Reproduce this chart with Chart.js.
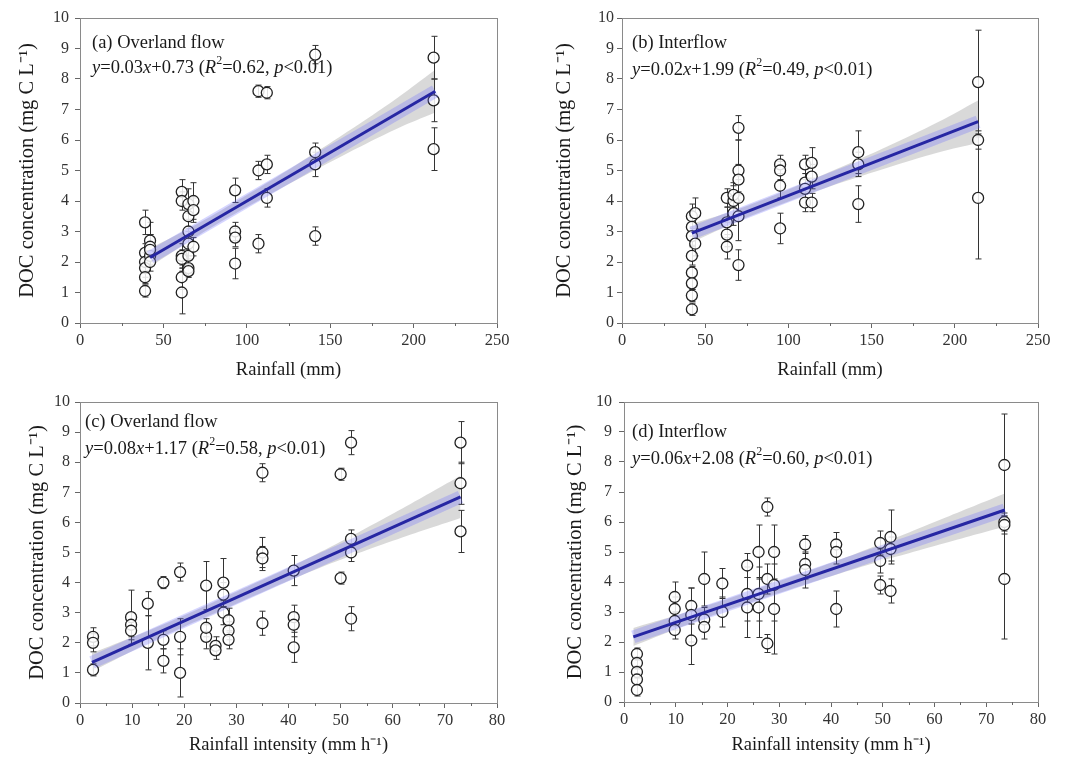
<!DOCTYPE html>
<html>
<head>
<meta charset="utf-8">
<script src="https://cdn.jsdelivr.net/npm/chart.js@4.4.1/dist/chart.umd.min.js"></script>
<style>
  body { margin: 0; background: #fff; }
  #wrap { position: relative; width: 1069px; height: 757px; }
  canvas { position: absolute; }
</style>
</head>
<body>
<div id="wrap">
  <canvas id="chartA" width="535" height="385" style="left:0;top:0"></canvas>
  <canvas id="chartB" width="534" height="385" style="left:535px;top:0"></canvas>
  <canvas id="chartC" width="535" height="372" style="left:0;top:385px"></canvas>
  <canvas id="chartD" width="534" height="372" style="left:535px;top:385px"></canvas>
</div>
<script>
// (a) overland flow vs rainfall
const overRainX = [39, 39, 39, 39, 39, 39, 42, 42, 42, 42, 42, 61, 61, 61, 61, 61, 61,
  65, 65, 65, 65, 65, 65, 65, 68, 68, 68, 93, 93, 93, 93, 107, 107, 107, 112, 112, 112,
  141, 141, 141, 141, 212, 212, 212];
const overRainY = [3.3, 2.3, 2.0, 1.8, 1.5, 1.05, 2.7, 2.5, 2.2, 2.0, 2.4, 4.3, 4.0, 2.2, 2.1, 1.5, 1.0,
  3.9, 3.5, 3.0, 2.6, 2.2, 1.8, 1.7, 4.0, 3.7, 2.5, 4.35, 3.0, 2.8, 1.95, 7.6, 5.0, 2.6, 7.55, 5.2, 4.1,
  8.8, 5.6, 5.2, 2.85, 8.7, 7.3, 5.7];
const overRainErr = [0.4, 0.3, 0.3, 0.3, 0.2, 0.2, 0.6, 0.4, 0.3, 0.3, 0.5, 0.4, 0.3, 0.4, 0.3, 0.4, 0.7,
  0.5, 0.4, 0.6, 0.4, 0.3, 0.3, 0.2, 0.6, 0.4, 0.3, 0.4, 0.3, 0.3, 0.5, 0.2, 0.3, 0.3, 0.2, 0.3, 0.3,
  0.3, 0.3, 0.4, 0.3, 0.7, 0.7, 0.7];
const overRainFitX = [42, 213];
const overRainFitY = [2.15, 7.6];
const overRainBandX = [42, 70, 100, 130, 160, 190, 213];
const overRainBandLo = [1.85, 2.84, 3.8, 4.7, 5.56, 6.37, 6.9];
const overRainBandHi = [2.45, 3.24, 4.2, 5.2, 6.26, 7.37, 8.3];

// (b) interflow vs rainfall
const interRainX = [42, 42, 42, 42, 42, 42, 42, 42, 44, 44, 63, 63, 63, 63, 67, 67, 67,
  70, 70, 70, 70, 70, 70, 95, 95, 95, 95, 110, 110, 110, 110, 114, 114, 114,
  142, 142, 142, 214, 214, 214];
const interRainY = [3.5, 3.15, 2.85, 2.2, 1.65, 1.3, 0.9, 0.45, 3.6, 2.6, 4.1, 2.9, 2.5, 3.3, 4.0, 3.6, 4.2,
  6.4, 5.0, 4.7, 4.1, 3.5, 1.9, 5.2, 5.0, 4.5, 3.1, 5.2, 4.6, 4.4, 3.95, 5.25, 4.8, 3.95,
  5.6, 5.2, 3.9, 7.9, 6.0, 4.1];
const interRainErr = [0.4, 0.3, 0.3, 0.3, 0.2, 0.2, 0.2, 0.2, 0.5, 0.4, 0.3, 0.4, 0.4, 0.5, 0.5, 0.4, 0.4,
  0.4, 1.0, 0.5, 0.6, 0.8, 0.5, 0.3, 0.3, 0.4, 0.5, 0.3, 0.3, 0.3, 0.3, 0.5, 0.4, 0.3,
  0.7, 0.4, 0.6, 1.7, 0.3, 2.0];
const interRainFitX = [42, 214];
const interRainFitY = [2.95, 6.6];
const interRainBandX = [42, 70, 100, 130, 160, 190, 214];
const interRainBandLo = [2.65, 3.34, 3.98, 4.57, 5.1, 5.59, 5.9];
const interRainBandHi = [3.25, 3.74, 4.38, 5.07, 5.8, 6.59, 7.3];

// (c) overland flow vs rainfall intensity
const overIntX = [2.5, 2.5, 2.5, 9.8, 9.8, 9.8, 13, 13, 16, 16, 16, 19.2, 19.2, 19.2,
  24.2, 24.2, 24.2, 26, 26, 27.5, 27.5, 27.5, 28.5, 28.5, 28.5, 35, 35, 35, 35,
  41, 41, 41, 41, 50, 50, 52, 52, 52, 52, 73, 73, 73];
const overIntY = [2.2, 2.0, 1.1, 2.85, 2.6, 2.4, 3.3, 2.0, 4.0, 2.1, 1.4, 4.35, 2.2, 1.0,
  3.9, 2.2, 2.5, 1.9, 1.75, 4.0, 3.6, 3.0, 2.75, 2.4, 2.1, 7.65, 5.0, 4.8, 2.65,
  4.4, 2.85, 2.6, 1.85, 7.6, 4.15, 8.65, 5.45, 5.0, 2.8, 8.65, 7.3, 5.7];
const overIntErr = [0.3, 0.3, 0.2, 0.9, 0.4, 0.3, 0.4, 0.9, 0.2, 0.3, 0.4, 0.3, 0.6, 0.8,
  0.8, 0.4, 0.3, 0.3, 0.3, 0.8, 0.4, 0.4, 0.4, 0.3, 0.3, 0.3, 0.5, 0.4, 0.4,
  0.5, 0.4, 0.4, 0.5, 0.2, 0.2, 0.4, 0.3, 0.3, 0.4, 0.7, 0.7, 0.7];
const overIntFitX = [2.3, 73];
const overIntFitY = [1.35, 6.85];
const overIntBandX = [2.3, 15, 30, 45, 60, 73];
const overIntBandLo = [1.05, 2.14, 3.3, 4.42, 5.39, 6.15];
const overIntBandHi = [1.65, 2.54, 3.7, 4.92, 6.29, 7.55];

// (d) interflow vs rainfall intensity
const interIntX = [2.5, 2.5, 2.5, 2.5, 2.5, 9.8, 9.8, 9.8, 9.8, 13, 13, 13, 15.5, 15.5, 15.5,
  19, 19, 23.8, 23.8, 23.8, 26, 26, 26, 27.7, 27.7, 27.7, 29, 29, 29, 35, 35, 35,
  41, 41, 41, 49.5, 49.5, 49.5, 51.5, 51.5, 51.5, 73.5, 73.5, 73.5, 73.5];
const interIntY = [1.6, 1.3, 1.0, 0.75, 0.4, 3.5, 3.1, 2.7, 2.4, 3.2, 2.9, 2.05, 4.1, 2.75, 2.5,
  3.95, 3.0, 4.55, 3.6, 3.15, 5.0, 3.6, 3.15, 6.5, 4.1, 1.95, 5.0, 3.9, 3.1, 5.25, 4.6, 4.4,
  5.25, 5.0, 3.1, 5.3, 4.7, 3.9, 5.5, 5.1, 3.7, 7.9, 6.0, 5.9, 4.1];
const interIntErr = [0.2, 0.2, 0.2, 0.2, 0.2, 0.5, 0.4, 0.3, 0.3, 0.6, 0.9, 0.8, 0.9, 0.4, 0.4,
  0.5, 0.5, 0.4, 0.9, 1.0, 0.9, 0.9, 1.0, 0.3, 0.5, 0.3, 0.9, 1.2, 1.5, 0.3, 0.5, 0.6,
  0.4, 0.4, 0.6, 0.4, 0.4, 0.3, 0.9, 0.4, 0.4, 1.7, 0.3, 0.3, 2.0];
const interIntFitX = [1.8, 73.6];
const interIntFitY = [2.17, 6.4];
const interIntBandX = [1.8, 15, 30, 45, 60, 73.6];
const interIntBandLo = [1.87, 2.75, 3.63, 4.46, 5.2, 5.85];
const interIntBandHi = [2.47, 3.15, 4.03, 4.96, 6.0, 6.95];

const serif = '"Liberation Serif", "Times New Roman", serif';
const inkColor = '#1a1a1a';
const textSize = 18.5;

function toPoints(xs, ys) {
  return xs.map((x, i) => ({ x: x, y: ys[i] }));
}

// vertical error bars with caps, drawn just before the scatter points
const errorBarPlugin = {
  id: 'errorBars',
  beforeDatasetDraw(chart, args) {
    const ds = chart.data.datasets[args.index];
    if (!ds.errors) return;
    const xs = chart.scales.x, ys = chart.scales.y;
    const c = chart.ctx;
    c.save();
    c.strokeStyle = '#333';
    c.lineWidth = 1;
    ds.data.forEach((pt, i) => {
      const e = ds.errors[i];
      const px = Math.round(xs.getPixelForValue(pt.x)) + 0.5;
      const top = ys.getPixelForValue(pt.y + e);
      const bot = ys.getPixelForValue(Math.max(0, pt.y - e));
      c.beginPath();
      c.moveTo(px, top); c.lineTo(px, bot);
      c.moveTo(px - 3, top); c.lineTo(px + 3, top);
      c.moveTo(px - 3, bot); c.lineTo(px + 3, bot);
      c.stroke();
    });
    c.restore();
  }
};

// box round the plot area, plus minor ticks half way between the x labels
const framePlugin = {
  id: 'frame',
  beforeDatasetsDraw(chart) {
    const a = chart.chartArea, c = chart.ctx, xs = chart.scales.x;
    const step = xs.options.ticks.stepSize;
    c.save();
    c.strokeStyle = '#8a8a8a';
    c.lineWidth = 1;
    c.strokeRect(a.left + 0.5, a.top + 0.5, a.right - a.left, a.bottom - a.top);
    c.strokeStyle = '#666';
    c.beginPath();
    for (let v = step / 2; v < xs.max; v += step) {
      const px = Math.round(xs.getPixelForValue(v)) + 0.5;
      c.moveTo(px, a.bottom);
      c.lineTo(px, a.bottom + 3);
    }
    c.stroke();
    c.restore();
  }
};

// panel label and regression equation, runs: [text, style] with style '', 'i' or 's'
const panelTextPlugin = {
  id: 'panelText',
  afterDraw(chart, args, opts) {
    const a = chart.chartArea, c = chart.ctx;
    c.save();
    c.fillStyle = inkColor;
    c.textBaseline = 'middle';
    c.font = textSize + 'px ' + serif;
    c.fillText(opts.title, a.left + opts.dx, a.top + opts.titleDy);
    let x = a.left + opts.dx;
    const y = a.top + opts.eqDy;
    opts.eq.forEach(run => {
      const style = run[1] || '';
      if (style === 's') {
        c.font = '12px ' + serif;
        c.fillText(run[0], x, y - 7);
      } else {
        c.font = (style === 'i' ? 'italic ' : '') + textSize + 'px ' + serif;
        c.fillText(run[0], x, y);
      }
      x += c.measureText(run[0]).width;
    });
    c.restore();
  }
};

function equation(slope, icpt, r2) {
  return [['y', 'i'], ['=' + slope], ['x', 'i'], ['+' + icpt + ' ('], ['R', 'i'], ['2', 's'],
    ['=' + r2 + ', '], ['p', 'i'], ['<0.01)']];
}

function drawPanel(id, p) {
  const ctx = document.getElementById(id).getContext('2d');
  return new Chart(ctx, {
    type: 'scatter',
    data: {
      datasets: [
        {
          type: 'line', data: toPoints(p.fitX, p.fitY), borderColor: '#2626a3',
          borderWidth: 3, pointRadius: 0, order: 0
        },
        {
          type: 'line', data: toPoints(p.fitX, p.fitY), borderColor: 'rgba(105,105,255,0.28)',
          borderWidth: 13, pointRadius: 0, order: 1
        },
        {
          data: toPoints(p.x, p.y), errors: p.err, pointRadius: 5.5,
          pointBorderColor: '#222', pointBackgroundColor: 'rgba(255,255,255,0.85)',
          pointBorderWidth: 1.3, order: 2
        },
        {
          type: 'line', data: toPoints(p.bandX, p.bandLo), borderWidth: 0,
          pointRadius: 0, tension: 0.4, order: 3
        },
        {
          type: 'line', data: toPoints(p.bandX, p.bandHi), borderWidth: 0,
          pointRadius: 0, tension: 0.4, fill: '-1',
          backgroundColor: 'rgba(165,165,165,0.42)', order: 3
        }
      ]
    },
    options: {
      responsive: false,
      animation: false,
      layout: { padding: { top: p.padTop, right: p.padRight, left: 0, bottom: 0 } },
      scales: {
        x: {
          type: 'linear', min: 0, max: p.xMax,
          ticks: { stepSize: p.xStep, color: '#333', padding: 3, font: { family: serif, size: 16.5 } },
          grid: { drawOnChartArea: false, tickLength: 5, color: '#666' },
          border: { color: '#555' },
          title: {
            display: true, text: p.xTitle, color: inkColor,
            font: { family: serif, size: textSize }, padding: { top: 0, bottom: p.xTitlePad }
          },
          afterFit(s) { s.height = p.xAxisH; }
        },
        y: {
          min: 0, max: 10,
          ticks: { stepSize: 1, color: '#333', padding: p.yTickPad, font: { family: serif, size: 16 } },
          grid: { drawOnChartArea: false, tickLength: 5, color: '#666' },
          border: { color: '#555' },
          title: {
            display: true, text: 'DOC concentration (mg C L⁻¹)', color: inkColor,
            font: { family: serif, size: 20.5 }, padding: { top: p.yTitlePad, bottom: 0 }
          },
          afterFit(s) { s.width = p.yAxisW; }
        }
      },
      plugins: {
        legend: { display: false },
        tooltip: { enabled: false },
        panelText: { title: p.title, eq: p.eq, dx: p.dx, titleDy: p.titleDy, eqDy: p.eqDy }
      }
    },
    plugins: [framePlugin, errorBarPlugin, panelTextPlugin]
  });
}

drawPanel('chartA', {
  x: overRainX, y: overRainY, err: overRainErr,
  fitX: overRainFitX, fitY: overRainFitY,
  bandX: overRainBandX, bandLo: overRainBandLo, bandHi: overRainBandHi,
  xMax: 250, xStep: 50, xTitle: 'Rainfall (mm)',
  title: '(a) Overland flow', eq: equation('0.03', '0.73', '0.62'),
  padTop: 18, padRight: 38, yAxisW: 80, xAxisH: 62,
  yTitlePad: 15.7, xTitlePad: 3.9, yTickPad: 6,
  dx: 12, titleDy: 25, eqDy: 50
});

drawPanel('chartB', {
  x: interRainX, y: interRainY, err: interRainErr,
  fitX: interRainFitX, fitY: interRainFitY,
  bandX: interRainBandX, bandLo: interRainBandLo, bandHi: interRainBandHi,
  xMax: 250, xStep: 50, xTitle: 'Rainfall (mm)',
  title: '(b) Interflow', eq: equation('0.02', '1.99', '0.49'),
  padTop: 18, padRight: 31, yAxisW: 87, xAxisH: 62,
  yTitlePad: 17.7, xTitlePad: 3.9, yTickPad: 3,
  dx: 10, titleDy: 25, eqDy: 52
});

drawPanel('chartC', {
  x: overIntX, y: overIntY, err: overIntErr,
  fitX: overIntFitX, fitY: overIntFitY,
  bandX: overIntBandX, bandLo: overIntBandLo, bandHi: overIntBandHi,
  xMax: 80, xStep: 10, xTitle: 'Rainfall intensity (mm h⁻¹)',
  title: '(c) Overland flow', eq: equation('0.08', '1.17', '0.58'),
  padTop: 17, padRight: 38, yAxisW: 80, xAxisH: 54,
  yTitlePad: 25.7, xTitlePad: 0.9, yTickPad: 5,
  dx: 5, titleDy: 20, eqDy: 47
});

drawPanel('chartD', {
  x: interIntX, y: interIntY, err: interIntErr,
  fitX: interIntFitX, fitY: interIntFitY,
  bandX: interIntBandX, bandLo: interIntBandLo, bandHi: interIntBandHi,
  xMax: 80, xStep: 10, xTitle: 'Rainfall intensity (mm h⁻¹)',
  title: '(d) Interflow', eq: equation('0.06', '2.08', '0.60'),
  padTop: 17, padRight: 31, yAxisW: 89, xAxisH: 55,
  yTitlePad: 28.7, xTitlePad: 0.9, yTickPad: 7,
  dx: 8, titleDy: 30, eqDy: 57
});
</script>
</body>
</html>
